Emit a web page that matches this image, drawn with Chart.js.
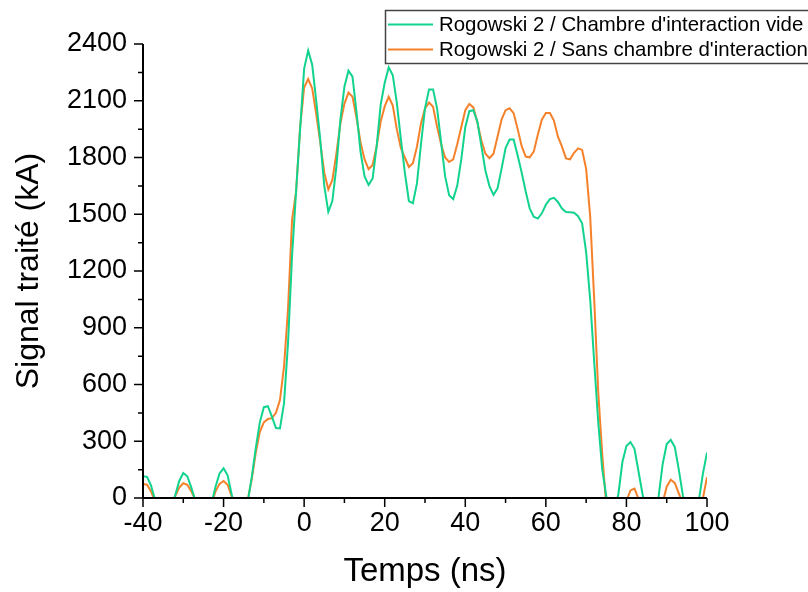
<!DOCTYPE html>
<html lang="fr">
<head>
<meta charset="utf-8">
<title>Signal traité</title>
<script src="https://cdn.jsdelivr.net/npm/chart.js@4.4.1/dist/chart.umd.min.js"></script>
<style>
  html, body { margin: 0; padding: 0; background: #fff; }
  canvas { display: block; }
</style>
</head>
<body>
<canvas id="chart" width="808" height="592"></canvas>
<script>
// Time base in ns (one sample per ns)
const times = [
  -40, -39, -38, -37, -36, -35, -34, -33, -32, -31, -30, -29, -28, -27, -26, -25, -24, -23, -22, -21,
  -20, -19, -18, -17, -16, -15, -14, -13, -12, -11, -10, -9, -8, -7, -6, -5, -4, -3, -2, -1,
  0, 1, 2, 3, 4, 5, 6, 7, 8, 9, 10, 11, 12, 13, 14, 15, 16, 17, 18, 19,
  20, 21, 22, 23, 24, 25, 26, 27, 28, 29, 30, 31, 32, 33, 34, 35, 36, 37, 38, 39,
  40, 41, 42, 43, 44, 45, 46, 47, 48, 49, 50, 51, 52, 53, 54, 55, 56, 57, 58, 59,
  60, 61, 62, 63, 64, 65, 66, 67, 68, 69, 70, 71, 72, 73, 74, 75, 76, 77, 78, 79,
  80, 81, 82, 83, 84, 85, 86, 87, 88, 89, 90, 91, 92, 93, 94, 95, 96, 97, 98, 99,
  100
];

// Rogowski 2 / Chambre d'interaction vide (kA)
const chambreVide = [
  115, 112, 65, -10, -80, -120, -110, -60, 15, 90, 132, 115, 55, -15, -90, -120, -100, -30, 60, 130,
  157, 120, 20, -60, -100, -80, -20, 110, 265, 400, 480, 485, 430, 370, 368, 500, 820, 1280, 1620, 1950,
  2270, 2365, 2290, 2100, 1893, 1650, 1513, 1570, 1750, 2000, 2175, 2259, 2227, 2040, 1830, 1700, 1655, 1690, 1860, 2080,
  2195, 2277, 2235, 2090, 1900, 1720, 1570, 1558, 1663, 1870, 2060, 2160, 2160, 2060, 1880, 1700, 1600, 1580, 1650, 1790,
  1960, 2045, 2050, 1990, 1860, 1730, 1649, 1602, 1637, 1740, 1850, 1895, 1895, 1810, 1720, 1620, 1530, 1487, 1477, 1505,
  1550, 1580, 1587, 1565, 1530, 1512, 1510, 1508, 1490, 1452, 1300, 1050, 720, 400, 150, 10, -100, -60, 20, 190,
  275, 296, 260, 140, 20, -80, -120, -80, 10, 180, 285, 307, 270, 150, 15, -80, -120, -90, -10, 130,
  240
];

// Rogowski 2 / Sans chambre d'interaction (kA)
const sansChambre = [
  74, 70, 35, -20, -60, -80, -70, -40, 10, 55, 78, 70, 35, -10, -60, -80, -70, -30, 35, 75,
  90, 70, 10, -40, -60, -50, -10, 100, 240, 350, 400, 418, 422, 450, 518, 694, 1000, 1470, 1620, 1960,
  2170, 2215, 2165, 2030, 1880, 1720, 1632, 1680, 1820, 1980, 2085, 2143, 2121, 2010, 1880, 1790, 1738, 1760, 1860, 1990,
  2070, 2121, 2075, 1950, 1850, 1800, 1750, 1770, 1857, 1980, 2060, 2090, 2068, 1963, 1870, 1800, 1776, 1790, 1870, 1960,
  2050, 2083, 2065, 1985, 1890, 1820, 1796, 1820, 1910, 2000, 2050, 2060, 2034, 1950, 1860, 1805, 1801, 1831, 1920, 2000,
  2035, 2035, 1995, 1910, 1857, 1795, 1790, 1825, 1848, 1840, 1740, 1490, 1050, 560, 230, -40, -120, -130, -100, -60,
  -15, 40, 50, -5, -60, -100, -110, -90, -60, -25, 60, 97, 80, 25, -30, -80, -100, -80, -40, 0,
  110
];

const xMajor = [-40, -20, 0, 20, 40, 60, 80, 100];
const xMinor = [-30, -10, 10, 30, 50, 70, 90];
const yMajor = [0, 300, 600, 900, 1200, 1500, 1800, 2100, 2400];
const yMinor = [150, 450, 750, 1050, 1350, 1650, 1950, 2250];

const GREEN = "#12d38e";
const ORANGE = "#f5822b";
const FONT = "'Liberation Sans', Arial, sans-serif";

function toPoints(values) {
  return values.map((v, i) => ({ x: times[i], y: v }));
}

// Axis lines plus major/minor tick marks, drawn through the scales
const axesPlugin = {
  id: "axes",
  afterDatasetsDraw(chart) {
    const { ctx, chartArea: a, scales: { x, y } } = chart;
    ctx.save();
    ctx.strokeStyle = "#000";
    ctx.lineWidth = 2;
    ctx.beginPath();
    ctx.moveTo(a.left, a.top);
    ctx.lineTo(a.left, a.bottom);
    ctx.lineTo(a.right, a.bottom);
    ctx.stroke();
    ctx.lineWidth = 1.5;
    ctx.beginPath();
    yMajor.forEach((v) => { const p = y.getPixelForValue(v); ctx.moveTo(a.left, p); ctx.lineTo(a.left - 9, p); });
    yMinor.forEach((v) => { const p = y.getPixelForValue(v); ctx.moveTo(a.left, p); ctx.lineTo(a.left - 5, p); });
    xMajor.forEach((v) => { const p = x.getPixelForValue(v); ctx.moveTo(p, a.bottom); ctx.lineTo(p, a.bottom + 9); });
    xMinor.forEach((v) => { const p = x.getPixelForValue(v); ctx.moveTo(p, a.bottom); ctx.lineTo(p, a.bottom + 5); });
    ctx.stroke();
    ctx.restore();
  }
};

// Boxed legend in the top right corner (runs off the right edge like the original)
const legendPlugin = {
  id: "boxLegend",
  afterDraw(chart) {
    const { ctx } = chart;
    ctx.save();
    ctx.strokeStyle = "#444";
    ctx.lineWidth = 1.5;
    ctx.strokeRect(385.5, 10.5, 480, 53);
    ctx.font = `20.4px ${FONT}`;
    ctx.textBaseline = "middle";
    ctx.fillStyle = "#000";
    chart.data.datasets.forEach((ds, i) => {
      const yy = 24.5 + i * 25;
      ctx.strokeStyle = ds.borderColor;
      ctx.lineWidth = 2;
      ctx.beginPath();
      ctx.moveTo(388, yy);
      ctx.lineTo(433, yy);
      ctx.stroke();
      ctx.fillText(ds.label, 439, yy + 1);
    });
    ctx.restore();
  }
};

new Chart(document.getElementById("chart"), {
  type: "line",
  data: {
    datasets: [
      { label: "Rogowski 2 / Chambre d'interaction vide", data: toPoints(chambreVide), borderColor: GREEN, borderWidth: 2 },
      { label: "Rogowski 2 / Sans chambre d'interaction", data: toPoints(sansChambre), borderColor: ORANGE, borderWidth: 2 }
    ]
  },
  options: {
    responsive: false,
    animation: false,
    parsing: false,
    elements: { point: { radius: 0 }, line: { tension: 0, fill: false } },
    layout: { padding: { left: 0, top: 44, right: 101, bottom: 0 } },
    plugins: { legend: { display: false }, tooltip: { enabled: false } },
    scales: {
      x: {
        type: "linear",
        min: -40,
        max: 100,
        grid: { display: false, drawTicks: false },
        border: { display: false },
        ticks: { stepSize: 20, padding: 9, color: "#000", font: { family: FONT, size: 27 }, callback: (v) => String(v) },
        title: { display: true, text: "Temps (ns)", color: "#000", font: { family: FONT, size: 33 }, padding: { top: 0, bottom: 0 } },
        afterFit: (s) => { s.height = 94; }
      },
      y: {
        type: "linear",
        min: 0,
        max: 2400,
        grid: { display: false, drawTicks: false },
        border: { display: false },
        ticks: { stepSize: 300, padding: 16, color: "#000", font: { family: FONT, size: 27 }, callback: (v) => String(v) },
        title: { display: true, text: "Signal traité (kA)", color: "#000", font: { family: FONT, size: 32 }, padding: { top: 10, bottom: 0 } },
        afterFit: (s) => { s.width = 143; }
      }
    }
  },
  plugins: [axesPlugin, legendPlugin]
});
</script>
</body>
</html>
